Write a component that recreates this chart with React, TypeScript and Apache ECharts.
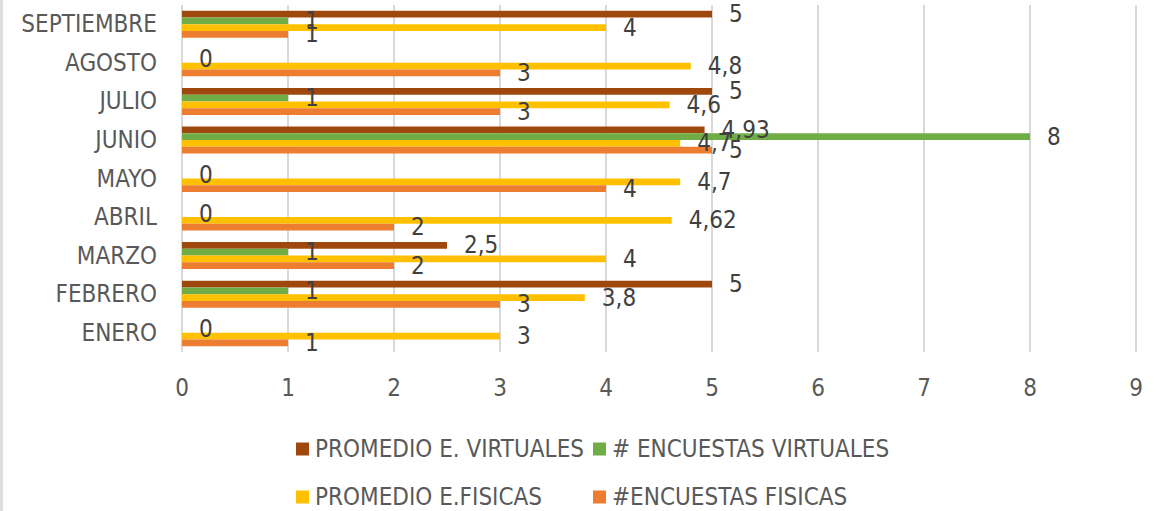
import React, { useEffect, useRef } from "react";
import * as echarts from "echarts";

const categories = ["ENERO", "FEBRERO", "MARZO", "ABRIL", "MAYO", "JUNIO", "JULIO", "AGOSTO", "SEPTIEMBRE"];
const promedioVirtuales = [null, 5, 2.5, null, null, 4.93, 5, null, 5];
const encuestasVirtuales = [0, 1, 1, 0, 0, 8, 1, 0, 1];
const promedioFisicas = [3, 3.8, 4, 4.62, 4.7, 4.7, 4.6, 4.8, 4];
const encuestasFisicas = [1, 3, 2, 2, 4, 5, 3, 3, 1];
const seriesNames = ["PROMEDIO E. VIRTUALES", "# ENCUESTAS VIRTUALES", "PROMEDIO E.FISICAS", "#ENCUESTAS FISICAS"];
const colors = ["#9E480E", "#70AD47", "#FFC000", "#ED7D31"];
const xTicks = [0, 1, 2, 3, 4, 5, 6, 7, 8, 9];

const FONT = "'Liberation Sans Narrow', 'DejaVu Sans Condensed', 'Liberation Sans', sans-serif";

export default function App() {
  const ref = useRef<HTMLDivElement>(null);
  useEffect(() => {
    document.body.style.margin = "0";
    const chart = echarts.init(ref.current!, null, { renderer: "svg" });
    const data = [promedioVirtuales, encuestasVirtuales, promedioFisicas, encuestasFisicas];
    const legendPos = [
      { left: 296, top: 437 },
      { left: 593, top: 437 },
      { left: 296, top: 485 },
      { left: 593, top: 485 },
    ];
    chart.setOption({
      animation: false,
      graphic: [
        { type: "rect", left: 0, top: 0, shape: { width: 3, height: 511 }, style: { fill: "#dedede" } },
      ],
      grid: { left: 182, right: 27, top: 5, height: 347, containLabel: false },
      legend: legendPos.map((p, i) => ({
        left: p.left,
        top: p.top,
        data: [seriesNames[i]],
        icon: "rect",
        itemWidth: 13,
        itemHeight: 13,
        padding: 0,
        selectedMode: false,
        textStyle: { fontFamily: FONT, fontSize: 24, color: "#595959", padding: [0, 0, 0, 1] },
      })),
      xAxis: {
        type: "value",
        min: 0,
        max: 9,
        interval: 1,
        axisLine: { show: false },
        axisTick: { show: false },
        splitLine: { lineStyle: { color: "#d9d9d9", width: 2 } },
        axisLabel: {
          fontFamily: FONT,
          fontSize: 24,
          color: "#595959",
          margin: 24,
          formatter: (v: number) => (xTicks.includes(v) ? String(v) : ""),
        },
      },
      yAxis: {
        type: "category",
        data: categories,
        axisLine: { show: false },
        axisTick: { show: false },
        axisLabel: { fontFamily: FONT, fontSize: 24, color: "#595959", margin: 25 },
      },
      series: data.map((d, i) => ({
        type: "bar",
        name: seriesNames[i],
        data: d,
        barGap: "0%",
        barCategoryGap: "30%",
        itemStyle: { color: colors[i] },
        label: {
          show: true,
          position: "right",
          distance: 17,
          fontFamily: FONT,
          fontSize: 24,
          color: "#404040",
          formatter: (p: any) => String(p.value).replace(".", ","),
        },
      })),
    });
    return () => chart.dispose();
  }, []);
  return <div ref={ref} style={{ width: 1163, height: 511 }} />;
}
